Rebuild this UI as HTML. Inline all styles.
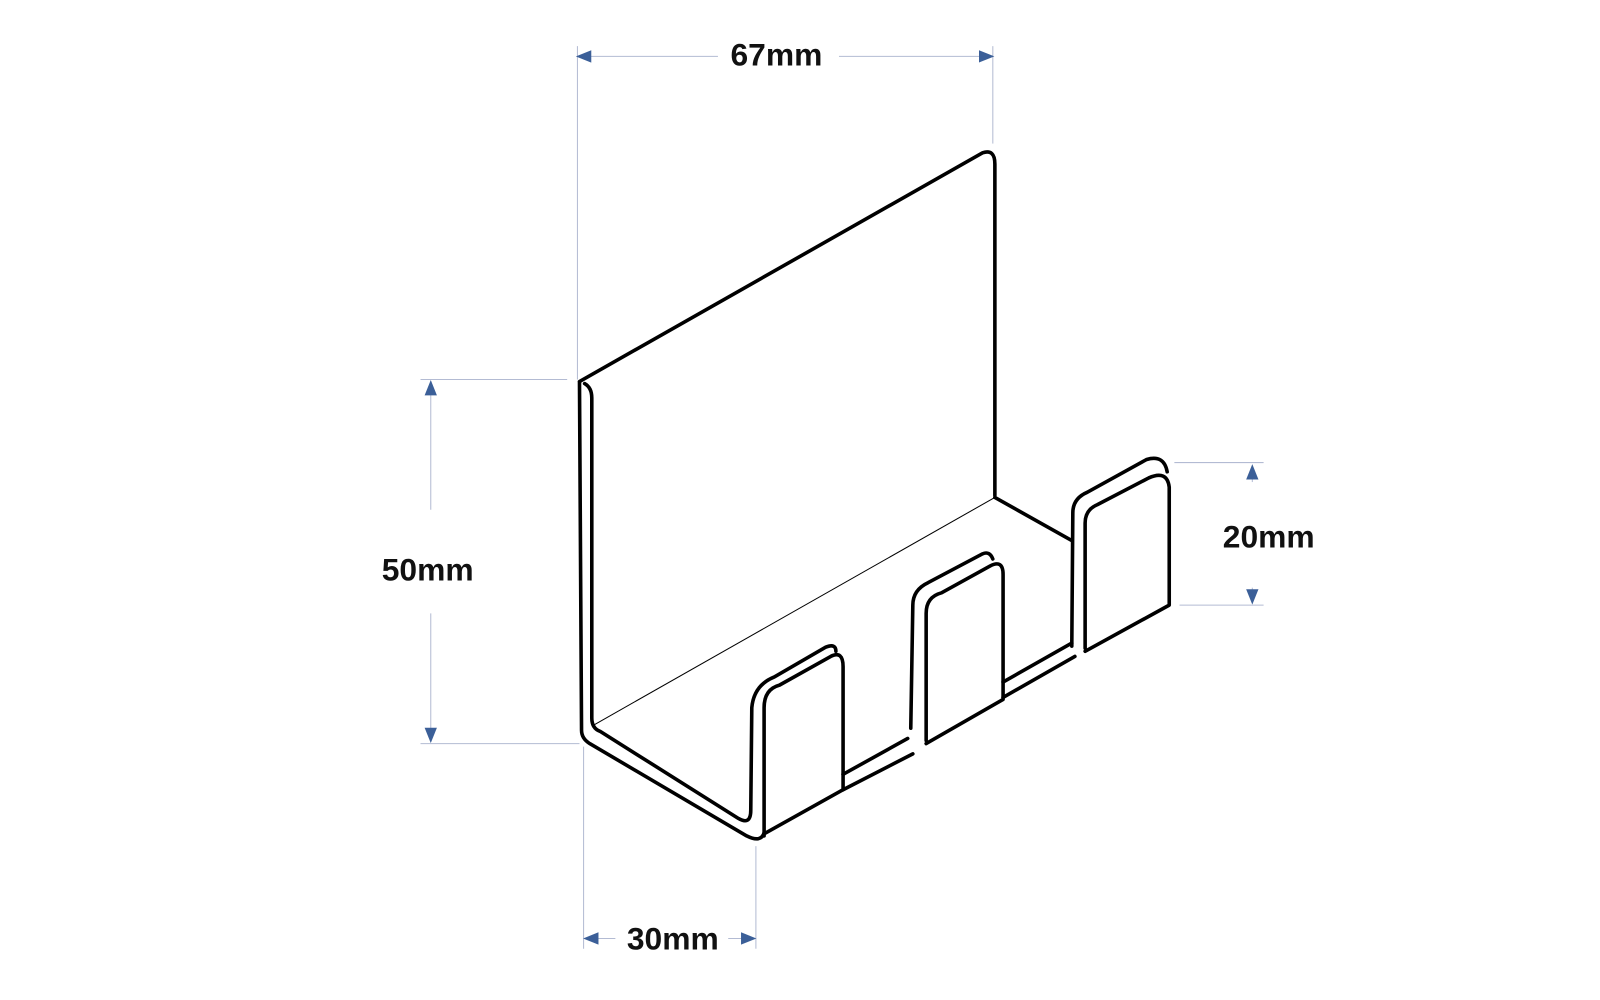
<!DOCTYPE html>
<html><head><meta charset="utf-8"><style>
html,body{margin:0;padding:0;background:#fff;width:1600px;height:1000px;overflow:hidden}
text{font-family:"Liberation Sans",sans-serif;font-weight:bold;fill:#111}
</style></head><body>
<svg width="1600" height="1000" viewBox="0 0 1560 975" xmlns="http://www.w3.org/2000/svg">
<defs>
<marker id="a" viewBox="0 0 10 10" refX="9" refY="5" markerWidth="15" markerHeight="15" markerUnits="userSpaceOnUse" orient="auto-start-reverse"><path d="M0,1 L10,5 L0,9 z" fill="#3b5f98"/></marker>
</defs>
<g stroke="#b3bbd3" stroke-width="1" fill="none">
<line x1="563" y1="45" x2="563" y2="370"/>
<line x1="968" y1="45" x2="968" y2="140"/>
<line x1="563" y1="55" x2="700" y2="55" marker-start="url(#a)"/>
<line x1="818" y1="55" x2="968" y2="55" marker-end="url(#a)"/>
<line x1="410" y1="370" x2="553" y2="370"/>
<line x1="410" y1="725" x2="565" y2="725"/>
<line x1="420" y1="372" x2="420" y2="497" marker-start="url(#a)"/>
<line x1="420" y1="598" x2="420" y2="723" marker-end="url(#a)"/>
<line x1="569" y1="728" x2="569" y2="925"/>
<line x1="737" y1="825" x2="737" y2="925"/>
<line x1="570" y1="915" x2="600" y2="915" marker-start="url(#a)"/>
<line x1="710" y1="915" x2="736" y2="915" marker-end="url(#a)"/>
<line x1="1145" y1="451" x2="1232" y2="451"/>
<line x1="1150" y1="590" x2="1232" y2="590"/>
<line x1="1221" y1="470" x2="1221" y2="454" marker-end="url(#a)"/>
<line x1="1221" y1="573" x2="1221" y2="588" marker-end="url(#a)"/>
</g>
<g fill="none" stroke="#000" stroke-width="3.5" stroke-linecap="round" stroke-linejoin="round">
<path d="M565,372 L958,149 Q970,145 970,160 L970,483"/>
<path d="M565,373 L567,712 Q567,720 575,725 L728,815 Q742,822 745,812"/>
<path d="M570,374 Q577,378 577,388 L577,700 Q577,710 585,713 L720,798 Q732,805 732,790 L733,690 Q735,668 755,660 L805,631 Q815,627 815,635"/>
<path d="M970,485 L1045,527"/>
<path d="M745,815 L745,690 Q745,672 760,668 L810,640 Q822,634 822,650 L822,770 L745,813"/>
<path d="M822,755 L885,720 M822,770 L890,735"/>
<path d="M888,710 L890,590 Q890,575 905,568 L958,540 Q965,537 968,545"/>
<path d="M903,722 L903,598 Q903,582 918,578 L965,552 Q978,545 978,560 L978,682 L903,725"/>
<path d="M978,665 L1045,627 M978,680 L1048,640"/>
<path d="M1045,630 L1046,500 Q1046,486 1060,480 L1118,448 Q1135,443 1138,460"/>
<path d="M1058,632 L1058,510 Q1058,497 1070,492 L1120,466 Q1138,458 1140,475 L1140,590 L1058,635"/>
</g>
<line x1="577" y1="708" x2="970" y2="485" stroke="#000" stroke-width="1"/>
<text x="757" y="64" font-size="31" text-anchor="middle">67mm</text>
<text x="417" y="566" font-size="31" text-anchor="middle">50mm</text>
<text x="656" y="926" font-size="31" text-anchor="middle">30mm</text>
<text x="1237" y="534" font-size="31" text-anchor="middle">20mm</text>
</svg>
</body></html>
